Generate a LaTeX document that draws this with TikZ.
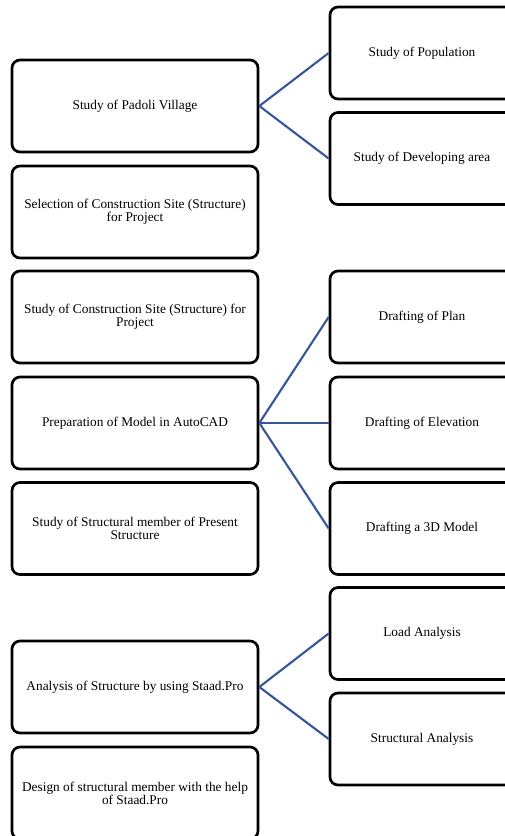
\documentclass[tikz,border=0pt]{standalone}
\usepackage{fontspec}
\setmainfont{Liberation Serif}
\usepackage{xcolor}
\usepackage{tikz}
\usetikzlibrary{positioning}
\definecolor{clrLink}{RGB}{56,87,155}
\definecolor{clrBox}{RGB}{0,0,0}

\begin{document}
\begin{tikzpicture}[x=0.75pt,y=0.75pt,font=\fontsize{10pt}{9.8pt}\selectfont,
  lbox/.style={draw=clrBox,line width=2pt,rounded corners=6pt,align=center,
    minimum width=184.5pt,minimum height=69pt,inner sep=2pt},
  rbox/.style={lbox,minimum width=138pt},
  link/.style={draw=clrLink,line width=1.6pt}]
  \path[use as bounding box,clip] (0,0) rectangle (505,-836);

  % left column: main steps
  \foreach \nm/\y/\txt in {%
    pad/106/{Study of Padoli Village},
    sel/212/{Selection of Construction Site (Structure)\\for Project},
    site/317/{Study of Construction Site (Structure) for\\Project},
    cad/423/{Preparation of Model in AutoCAD},
    mem/528.5/{Study of Structural member of Present\\Structure},
    ana/687/{Analysis of Structure by using Staad.Pro},
    des/793/{Design of structural member with the help\\of Staad.Pro}}{
      \node[lbox] (\nm) at (135,-\y) {\txt};
  }

  % right column: sub steps
  \foreach \nm/\y/\txt in {%
    pop/53/{Study of Population},
    dev/158.5/{Study of Developing area},
    plan/317/{Drafting of Plan},
    elev/423/{Drafting of Elevation},
    model/528.5/{Drafting a 3D Model},
    load/633.5/{Load Analysis},
    stru/739/{Structural Analysis}}{
      \node[rbox] (\nm) at (422,-\y) {\txt};
  }

  % links
  \foreach \a/\b in {pad/pop,pad/dev,cad/plan,cad/elev,cad/model,ana/load,ana/stru}{
    \draw[link] (\a.east) -- (\b.west);
  }
\end{tikzpicture}
\end{document}
